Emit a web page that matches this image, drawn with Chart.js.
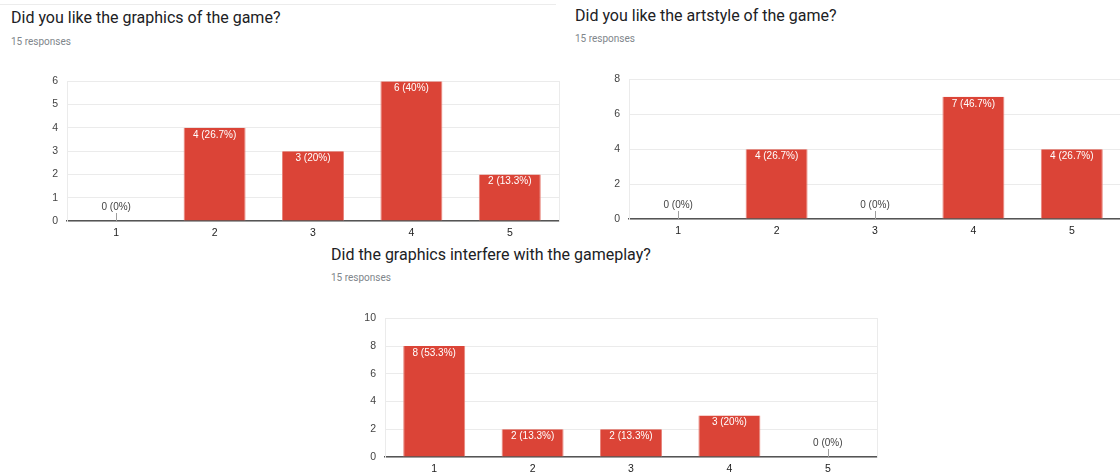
<!DOCTYPE html>
<html>
<head>
<meta charset="utf-8">
<script src="https://cdn.jsdelivr.net/npm/chart.js@4"></script>
<style>
    html, body { margin: 0; padding: 0; background: #fff; overflow: hidden; }
    body { width: 1120px; height: 473px; position: relative; font-family: Roboto, Arial, sans-serif; }
    .title { position: absolute; font-size: 16px; line-height: 20px; color: #202124; white-space: nowrap; }
    .sub { position: absolute; font-size: 10px; line-height: 12px; color: #80868b; white-space: nowrap; }
    .box { position: absolute; }
    .card-edge { position: absolute; left: 0; top: 4px; width: 556px; height: 1px; background: #ececec; }
</style>
</head>
<body>
<div class="card-edge"></div>

<div class="title" style="left:11px; top:8px;">Did you like the graphics of the game?</div>
<div class="sub" style="left:11px; top:36px;">15 responses</div>
<div class="box" style="left:37px; top:66px; width:523px; height:175px;"><canvas id="graphicsChart"></canvas></div>

<div class="title" style="left:575px; top:6px;">Did you like the artstyle of the game?</div>
<div class="sub" style="left:575px; top:33px;">15 responses</div>
<div class="box" style="left:599px; top:64px; width:523px; height:175px;"><canvas id="artstyleChart"></canvas></div>

<div class="title" style="left:331px; top:245px;">Did the graphics interfere with the gameplay?</div>
<div class="sub" style="left:331px; top:272px;">15 responses</div>
<div class="box" style="left:355px; top:303px; width:523px; height:174px;"><canvas id="interfereChart"></canvas></div>

<script>
        // Data
        const categories = ['1', '2', '3', '4', '5'];
        const totalResponses = 15;

        const graphicsValues = [0, 4, 3, 6, 2];
        const artstyleValues = [0, 4, 0, 7, 4];
        const interfereValues = [8, 2, 2, 3, 0];

        const graphicsTicks = [0, 1, 2, 3, 4, 5, 6];
        const artstyleTicks = [0, 2, 4, 6, 8];
        const interfereTicks = [0, 2, 4, 6, 8, 10];

        const barColor = '#db4437';
        const chartFont = 'Arial, "Liberation Sans", sans-serif';

        function pctLabel(v) {
            const pct = Math.round(v / totalResponses * 1000) / 10;
            return v + ' (' + pct + '%)';
        }

        // Value labels on the bars, and the little stub Google draws for empty bars
        const barLabels = {
            id: 'barLabels',
            afterDatasetsDraw(chart) {
                const ctx = chart.ctx;
                const meta = chart.getDatasetMeta(0);
                const values = chart.data.datasets[0].data;
                ctx.save();
                ctx.font = '10px ' + chartFont;
                ctx.textAlign = 'center';
                ctx.textBaseline = 'middle';
                meta.data.forEach((bar, i) => {
                    const v = values[i];
                    if (v === 0) {
                        ctx.strokeStyle = '#9e9e9e';
                        ctx.lineWidth = 1;
                        ctx.beginPath();
                        ctx.moveTo(Math.round(bar.x) + 0.5, bar.base);
                        ctx.lineTo(Math.round(bar.x) + 0.5, bar.base - 8);
                        ctx.stroke();
                        ctx.fillStyle = '#444';
                        ctx.fillText(pctLabel(v), bar.x, bar.base - 14);
                    } else {
                        ctx.fillStyle = '#ffffff';
                        ctx.fillText(pctLabel(v), bar.x, bar.y + 7);
                    }
                });
                ctx.restore();
            }
        };

        function makeChart(id, values, ticks) {
            const ctx = document.getElementById(id).getContext('2d');
            return new Chart(ctx, {
                type: 'bar',
                data: {
                    labels: categories,
                    datasets: [{
                        data: values,
                        backgroundColor: barColor,
                        borderColor: '#e8857c',
                        borderWidth: { left: 1, right: 1, top: 0, bottom: 0 },
                        categoryPercentage: 1,
                        barPercentage: 0.63
                    }]
                },
                options: {
                    responsive: true,
                    maintainAspectRatio: false,
                    animation: false,
                    events: [],
                    layout: { padding: { top: 3, right: 1, left: 0, bottom: 0 } },
                    plugins: {
                        legend: { display: false },
                        tooltip: { enabled: false }
                    },
                    scales: {
                        x: {
                            grid: { display: false, drawTicks: false },
                            border: { display: true, color: '#555', width: 1.5 },
                            ticks: {
                                color: '#222',
                                padding: 6,
                                font: { family: chartFont, size: 10.5 }
                            },
                            afterFit: (scale) => { scale.height = 20; }
                        },
                        y: {
                            min: ticks[0],
                            max: ticks[ticks.length - 1],
                            grid: { color: '#ebebeb', drawTicks: false },
                            border: { display: true, color: '#ebebeb' },
                            ticks: {
                                stepSize: ticks[1] - ticks[0],
                                color: '#444',
                                padding: 9,
                                font: { family: chartFont, size: 10.5 }
                            },
                            afterFit: (scale) => { scale.width = 30; }
                        },
                        yRight: {
                            position: 'right',
                            min: ticks[0],
                            max: ticks[ticks.length - 1],
                            grid: { drawOnChartArea: false, drawTicks: false },
                            border: { display: true, color: '#ebebeb' },
                            ticks: { display: false },
                            afterFit: (scale) => { scale.width = 0; }
                        }
                    }
                },
                plugins: [barLabels]
            });
        }

        window.addEventListener('load', () => {
            makeChart('graphicsChart', graphicsValues, graphicsTicks);
            makeChart('artstyleChart', artstyleValues, artstyleTicks);
            makeChart('interfereChart', interfereValues, interfereTicks);
        });
</script>
</body>
</html>
